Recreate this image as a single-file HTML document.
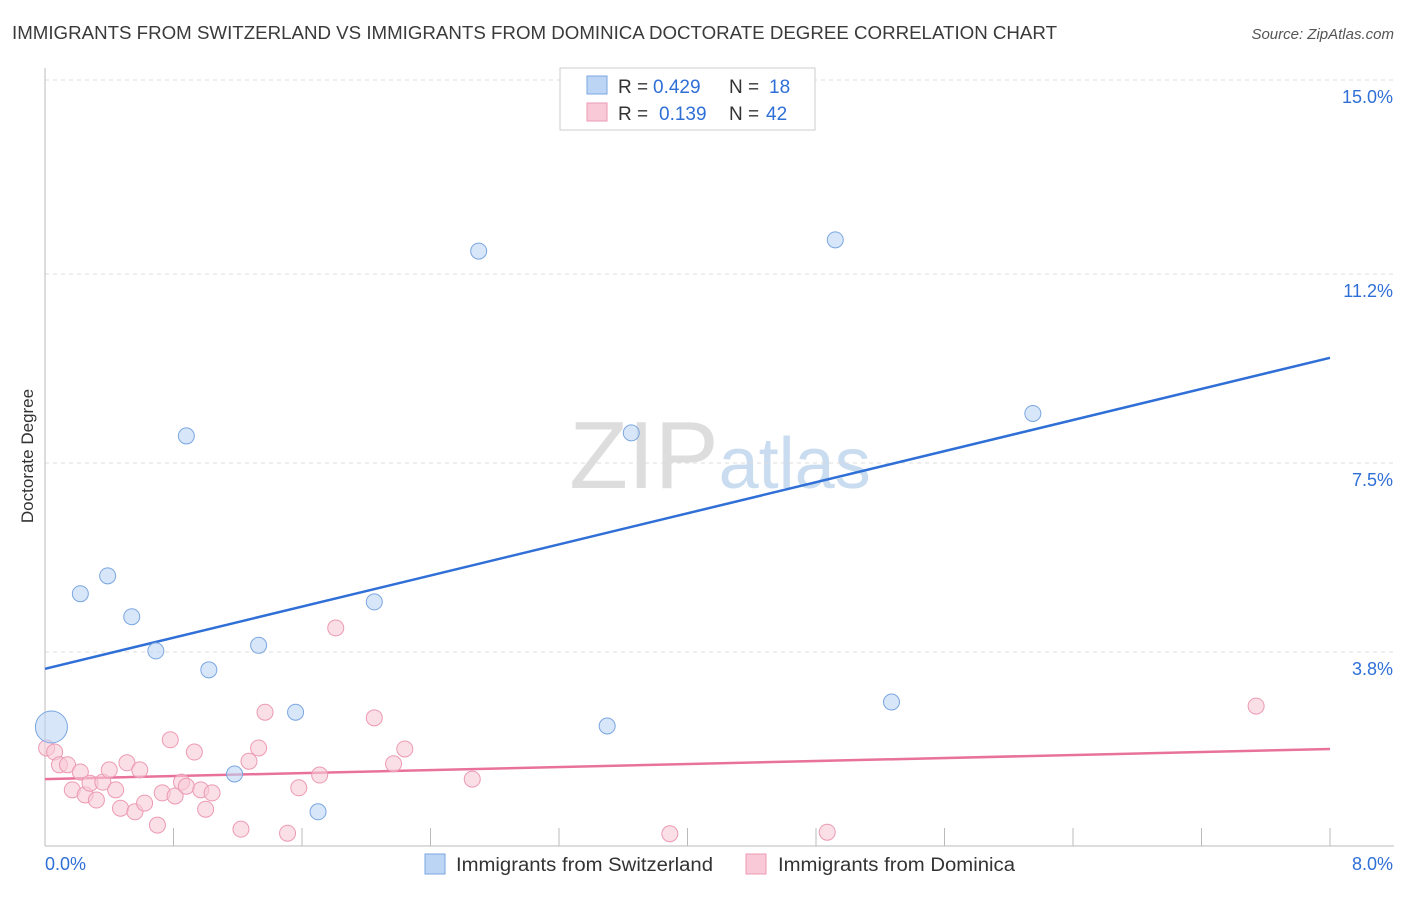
<!DOCTYPE html>
<html><head><meta charset="utf-8"><style>
body{margin:0;background:#fff;font-family:"Liberation Sans",sans-serif;}
svg text{font-family:"Liberation Sans",sans-serif;}
</style></head><body>
<svg id="chart" width="1406" height="892" xmlns="http://www.w3.org/2000/svg">
<text x="12" y="39" font-size="18" fill="#3a3a3a" textLength="1045" lengthAdjust="spacingAndGlyphs">IMMIGRANTS FROM SWITZERLAND VS IMMIGRANTS FROM DOMINICA DOCTORATE DEGREE CORRELATION CHART</text>
<text x="1394" y="39" font-size="15" fill="#555" font-style="italic" text-anchor="end">Source: ZipAtlas.com</text>
<text x="720" y="488" font-size="96" text-anchor="middle" fill="#ddd" font-family="Liberation Serif">ZIP<tspan fill="#c9dcf0" font-family="Liberation Sans" font-size="72">atlas</tspan></text>
<text transform="translate(33,456) rotate(-90)" font-size="17" fill="#333" text-anchor="middle">Doctorate Degree</text>
<g id="grid"></g><g id="ticks"></g><g id="lines"></g><g id="pts"></g>
<g>
<rect x="560" y="68" width="255" height="62" fill="#fff" stroke="#ccc"/>
<rect x="587" y="76" width="20" height="18" fill="#bcd5f5" stroke="#7aa6e0"/>
<text x="618" y="93" font-size="19" fill="#333">R =</text>
<text x="653" y="93" font-size="19" fill="#2f6fd6">0.429</text>
<text x="729" y="93" font-size="19" fill="#333">N =</text>
<text x="769" y="93" font-size="19" fill="#2f6fd6">18</text>
<rect x="587" y="103" width="20" height="18" fill="#f9c9d7" stroke="#ec9ab3"/>
<text x="618" y="120" font-size="19" fill="#333">R =</text>
<text x="659" y="120" font-size="19" fill="#2f6fd6">0.139</text>
<text x="729" y="120" font-size="19" fill="#333">N =</text>
<text x="766" y="120" font-size="19" fill="#2f6fd6">42</text>
</g>
<g>
<rect x="425" y="854" width="20" height="20" fill="#bcd5f5" stroke="#7aa6e0"/>
<text x="456" y="871" font-size="19" fill="#333" textLength="257" lengthAdjust="spacingAndGlyphs">Immigrants from Switzerland</text>
<rect x="746" y="854" width="20" height="20" fill="#f9c9d7" stroke="#ec9ab3"/>
<text x="778" y="871" font-size="19" fill="#333" textLength="237" lengthAdjust="spacingAndGlyphs">Immigrants from Dominica</text>
</g>
</svg>
<script>
const yTicks=[3.8,7.5,11.2,15.0];
const yTickLabels=["3.8%","7.5%","11.2%","15.0%"];
const xTickVals=[0,0.8,1.6,2.4,3.2,4.0,4.8,5.6,6.4,7.2,8.0];
const xEndLabels=["0.0%","8.0%"];
const swissX=[0.04,0.22,0.39,0.54,0.69,0.88,1.02,1.18,1.33,1.56,1.70,2.05,2.70,3.50,3.65,4.92,5.27,6.15];
const swissY=[2.33,4.94,5.29,4.49,3.82,8.03,3.45,1.41,3.93,2.62,0.67,4.78,11.65,2.35,8.09,11.87,2.82,8.47];
const domX=[0.01,0.06,0.09,0.14,0.17,0.22,0.25,0.28,0.32,0.36,0.40,0.44,0.47,0.51,0.56,0.59,0.62,0.70,0.73,0.78,0.81,0.85,0.88,0.93,0.97,1.00,1.04,1.22,1.27,1.33,1.37,1.51,1.58,1.71,1.81,2.05,2.17,2.24,2.66,3.89,4.87,7.54];
const domY=[1.92,1.84,1.59,1.59,1.10,1.45,1.00,1.23,0.90,1.25,1.49,1.10,0.74,1.63,0.67,1.49,0.84,0.41,1.04,2.08,0.98,1.25,1.17,1.84,1.10,0.72,1.04,0.33,1.66,1.92,2.62,0.25,1.14,1.39,4.27,2.51,1.61,1.90,1.31,0.24,0.27,2.74];
const swissTrend=[3.47,9.56];
const domTrend=[1.31,1.90];
const trendX=[0,8];
const X=v=>45+v*(1285/8), Y=v=>846-v*(766/15);
const NS="http://www.w3.org/2000/svg";
function mk(p,t,a){const e=document.createElementNS(NS,t);for(const k in a)e.setAttribute(k,a[k]);document.getElementById(p).appendChild(e);return e;}
yTicks.forEach((t,i)=>{
 const g=mk('grid','line',{x1:45,x2:1394,y1:Y(t),y2:Y(t),stroke:'#ddd','stroke-dasharray':'4,4'});
 
 
 const l=mk('ticks','text',{x:1393,y:Y(t)+23,'font-size':18,fill:'#2f6fd6','text-anchor':'end'});
 l.textContent=yTickLabels[i];
 
 
});
const ax=mk('grid','line',{x1:45,x2:1394,y1:846,y2:846,stroke:'#bbb'});


const ay=mk('grid','line',{x1:45,x2:45,y1:68,y2:846,stroke:'#bbb'});


xTickVals.forEach(v=>{
 const t=mk('ticks','line',{x1:X(v),x2:X(v),y1:828,y2:846,stroke:'#bbb'});
 
 
});
const l0=mk('ticks','text',{x:45,y:870,'font-size':18,fill:'#2f6fd6'});l0.textContent=xEndLabels[0];


const l1=mk('ticks','text',{x:1393,y:870,'font-size':18,fill:'#2f6fd6','text-anchor':'end'});l1.textContent=xEndLabels[1];


domX.forEach((v,i)=>{
 const c=mk('pts','circle',{cx:X(v),cy:Y(domY[i]),r:8,fill:'#f9c9d7','fill-opacity':0.6,stroke:'#ec9ab3'});
 
 
});
swissX.forEach((v,i)=>{
 const c=mk('pts','circle',{cx:X(v),cy:Y(swissY[i]),r:i===0?16:8,fill:'#bcd5f5','fill-opacity':0.6,stroke:'#7aa6e0'});
 
 
});
const b=mk('lines','line',{x1:X(trendX[0]),x2:X(trendX[1]),y1:Y(swissTrend[0]),y2:Y(swissTrend[1]),stroke:'#2f6fd6','stroke-width':2.5});


const p=mk('lines','line',{x1:X(trendX[0]),x2:X(trendX[1]),y1:Y(domTrend[0]),y2:Y(domTrend[1]),stroke:'#e8729b','stroke-width':2.5});


</script>
</body></html>
